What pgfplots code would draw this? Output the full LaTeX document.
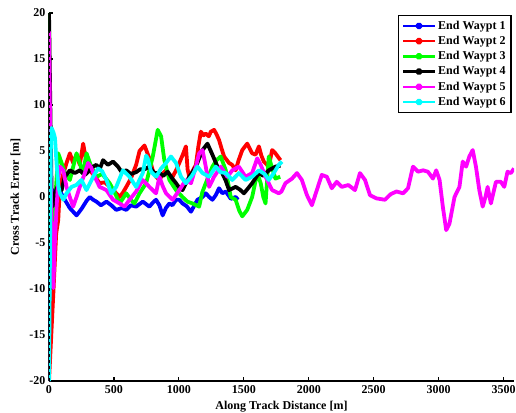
\documentclass[border=0pt]{standalone}
\usepackage{fontspec}
\setmainfont{Liberation Serif}
\usepackage{pgfplots}
\pgfplotsset{compat=1.18}
\definecolor{cBlue}{RGB}{0,0,255}
\definecolor{cRed}{RGB}{255,0,0}
\definecolor{cGreen}{RGB}{0,255,0}
\definecolor{cMag}{RGB}{255,0,255}
\definecolor{cCyan}{RGB}{0,255,255}

\begin{document}
\begin{tikzpicture}[font=\fontsize{12}{14}\selectfont\bfseries]
\begin{axis}[
  name=ax,
  scale only axis,
  width=465pt, height=368pt,
  xmin=0, xmax=3580, ymin=-20, ymax=20,
  xtick={0,500,...,3500}, ytick={-20,-15,...,20},
  axis lines=left, axis line style={-, line width=1.6pt},
  tick align=inside, major tick length=4pt,
  every tick/.style={black, line width=1.2pt},
  /pgf/number format/assume math mode=true,
  /pgf/number format/set thousands separator={},
  xticklabel style={font=\fontsize{12}{14}\selectfont\bfseries, yshift=-1pt},
  yticklabel style={font=\fontsize{12}{14}\selectfont\bfseries},
  xlabel={Along Track Distance [m]},
  ylabel={Cross Track Error [m]},
  xlabel style={yshift=-1pt},
  ylabel style={yshift=2pt},
  legend style={at={(0.995,0.995)}, anchor=north east, draw=black,
    line width=1.3pt, font=\fontsize{12}{14}\selectfont\bfseries,
    row sep=1.4pt, inner sep=3.5pt},
  legend cell align=left,
  legend image code/.code={%
    \draw[#1, line width=2.4pt] (0cm,0cm) -- (1.12cm,0cm);
    \fill[#1] (0.56cm,0cm) circle (1.8pt);},
  every axis plot/.append style={line width=3.8pt, line join=round},
  clip=true,
]
\addplot[cBlue] coordinates {(0,-20) (5,-5) (10,0.5) (50,0.8) (90,0.5) (122,-0.3) (160,-1.2) (212,-2.0) (250,-1.3) (290,-0.4) (314,0) (340,-0.3) (365,-0.5) (400,-0.9) (442,-0.5) (480,-0.9) (518,-1.4) (560,-1.2) (595,-1.4) (630,-0.9) (671,-1.05) (722,-0.5) (773,-1.05) (800,-0.6) (824,-0.3) (850,-0.9) (875,-2.0) (900,-1.2) (927,-0.7) (950,-0.9) (978,-0.3) (1003,-0.3) (1028,-0.7) (1060,-1.0) (1093,-1.6) (1120,-0.9) (1143,-0.3) (1182,0) (1207,0.4) (1233,0) (1258,-0.3) (1284,0.2) (1309,0.95) (1335,0.4) (1361,0.6) (1400,-0.2) (1437,0) (1455,-0.3)};
\addlegendentry{End Waypt 1}
\addplot[cRed] coordinates {(0,-20) (35,-10) (55,-4) (71,-2.5) (84,1.1) (110,2.5) (135,3.7) (161,4.75) (186,3.7) (212,4.6) (237,3.5) (263,5.8) (289,3.7) (314,2.9) (350,2.3) (390,1.5) (430,1.6) (467,1.1) (505,0.6) (544,0) (570,0.5) (595,1.1) (630,2.0) (671,3.5) (697,5.0) (735,5.6) (773,4.2) (799,2.9) (825,2.2) (850,1.85) (880,2.6) (901,2.9) (927,2.4) (952,2.2) (978,2.9) (1003,3.7) (1030,4.6) (1054,5.5) (1067,3.0) (1080,2.2) (1105,2.8) (1131,3.5) (1150,5.5) (1169,7.1) (1190,6.7) (1207,6.9) (1230,6.6) (1246,7.1) (1271,7.3) (1290,6.8) (1309,6.2) (1330,5.2) (1348,4.4) (1386,3.7) (1410,3.5) (1437,2.9) (1460,4.0) (1488,5.1) (1526,5.8) (1564,4.75) (1590,4.6) (1616,5.5) (1635,4.5) (1654,3.85) (1692,3.3) (1718,5.1) (1743,4.75) (1782,4.0)};
\addlegendentry{End Waypt 2}
\addplot[cGreen] coordinates {(0,20) (10,-5) (30,-3) (46,-0.7) (71,4.75) (97,3.7) (122,2.6) (161,1.85) (190,3.5) (212,4.75) (237,3.7) (260,2.5) (289,4.75) (320,3.5) (365,2.2) (410,2.5) (467,1.5) (505,0.5) (544,-0.7) (595,0.4) (630,-0.3) (658,-0.7) (697,0.4) (748,1.5) (775,3.0) (799,4.4) (820,6.0) (837,7.3) (863,6.6) (888,4.0) (927,1.85) (978,0.75) (1028,0) (1065,-0.5) (1105,-0.7) (1156,-1.05) (1180,0.5) (1207,1.5) (1258,3.3) (1290,4.0) (1322,4.4) (1361,2.9) (1399,0) (1437,-0.3) (1465,-1.5) (1488,-2.1) (1526,-1.4) (1564,0) (1603,2.6) (1630,1.5) (1650,0.0) (1667,-0.7) (1680,2.0) (1692,4.4) (1710,3.5) (1743,2.0) (1780,2.2)};
\addlegendentry{End Waypt 3}
\addplot[black] coordinates {(0,20) (10,10) (20,0.5) (30,-1) (45,0.2) (60,1.0) (97,0.75) (122,2.2) (161,2.9) (199,2.6) (237,2.9) (276,2.4) (314,2.9) (340,3.3) (365,3.5) (390,3.0) (416,4.0) (454,3.5) (493,3.85) (531,3.3) (560,2.7) (595,2.9) (630,2.5) (671,2.7) (700,3.0) (735,3.0) (773,3.3) (810,2.6) (850,2.6) (880,2.3) (914,2.75) (950,2.0) (978,1.5) (1003,1.0) (1028,0.75) (1054,1.5) (1080,2.2) (1105,2.7) (1131,3.3) (1156,4.2) (1182,5.1) (1220,5.8) (1258,4.6) (1297,3.3) (1330,2.7) (1360,1.8) (1386,0.75) (1437,1.1) (1470,0.8) (1501,0.4) (1530,0.9) (1564,1.5) (1616,2.6) (1650,2.3) (1692,2.9) (1743,3.3) (1782,3.4)};
\addlegendentry{End Waypt 4}
\addplot[cMag] coordinates {(0,18) (15,0) (33,-9.9) (45,-5) (59,-0.9) (72,2.0) (84,3.3) (110,2.9) (135,1.1) (160,0) (186,-1.05) (212,0) (237,1.1) (276,2.6) (301,3.7) (325,3.2) (352,2.2) (390,1.1) (442,0.75) (493,-0.3) (544,-0.7) (582,-1.05) (620,-0.3) (671,0.6) (722,1.85) (773,1.1) (824,0.4) (850,2.2) (875,1.2) (901,0.4) (952,-0.3) (1003,0.75) (1054,1.85) (1093,1.5) (1131,3.3) (1156,4.75) (1182,5.1) (1207,3.3) (1233,1.1) (1271,2.2) (1322,3.3) (1373,2.2) (1411,2.9) (1462,3.3) (1513,2.2) (1564,2.6) (1603,4.2) (1630,3.5) (1667,2.2) (1718,0.75) (1769,0.4) (1790,0.6) (1820,1.5) (1871,2.0) (1909,2.6) (1947,1.85) (1986,0.2) (2024,-0.9) (2062,0.75) (2100,2.4) (2139,2.2) (2177,0.95) (2215,1.65) (2254,1.1) (2305,1.3) (2356,0.75) (2394,2.6) (2433,1.85) (2471,0.2) (2521,-0.15) (2586,-0.3) (2630,0.3) (2675,0.6) (2726,0.4) (2764,0.95) (2802,3.3) (2841,2.75) (2880,2.9) (2917,2.75) (2956,2.0) (2981,2.9) (3007,1.85) (3032,-1.05) (3058,-3.6) (3083,-2.9) (3122,0) (3160,1.1) (3185,3.85) (3211,3.3) (3236,4.4) (3262,5.1) (3287,3.3) (3313,0.75) (3339,-1.05) (3360,0.0) (3377,1.1) (3402,-0.7) (3441,1.65) (3479,1.65) (3505,1.1) (3530,2.75) (3556,2.6) (3580,3.1)};
\addlegendentry{End Waypt 5}
\addplot[cCyan] coordinates {(0,-20) (8,-5) (15,6.5) (20,7.5) (35,7.0) (46,6.4) (59,3.5) (71,1.3) (84,0.4) (110,-0.3) (135,0.4) (174,1.1) (210,1.3) (250,1.85) (289,0.75) (340,2.2) (378,3.1) (410,2.8) (442,1.85) (480,0.4) (518,1.1) (569,2.9) (620,2.2) (671,1.1) (722,2.6) (748,4.5) (760,4.2) (786,2.75) (824,2.2) (863,3.1) (901,3.7) (939,4.4) (978,3.7) (1016,2.2) (1054,1.5) (1100,2.3) (1143,3.3) (1182,2.6) (1233,2.2) (1284,3.3) (1320,2.7) (1361,2.6) (1411,1.85) (1462,2.6) (1513,1.85) (1564,2.2) (1616,2.9) (1660,2.5) (1692,1.85) (1731,2.6) (1769,3.5) (1794,3.85)};
\addlegendentry{End Waypt 6}
\addplot[black, dashed, line width=0.8pt, forget plot] coordinates {(4,-20) (4,20)};
\end{axis}
\pgfresetboundingbox
\path[use as bounding box] ([xshift=-49pt,yshift=-31pt]ax.south west) rectangle ([xshift=2pt,yshift=13pt]ax.north east);
\end{tikzpicture}
\end{document}
